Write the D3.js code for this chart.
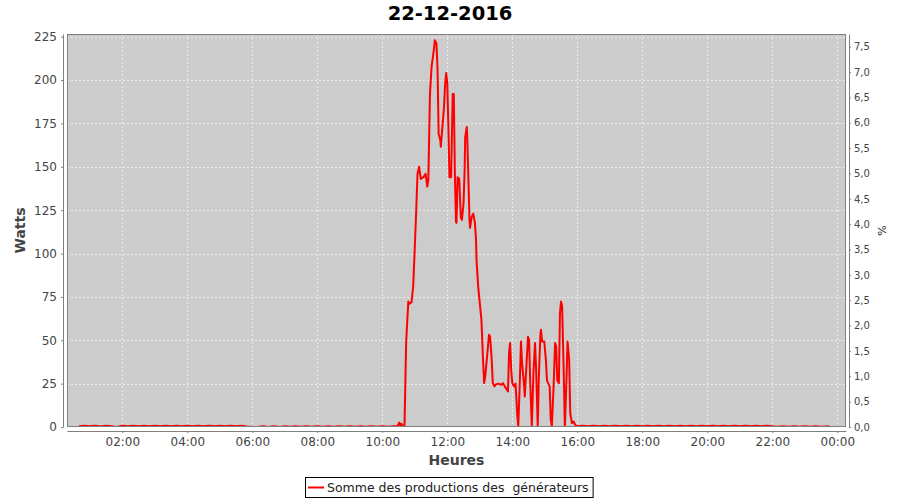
<!DOCTYPE html>
<html>
<head>
<meta charset="utf-8">
<script src="https://cdn.jsdelivr.net/npm/d3@7"></script>
<style>
  body { margin: 0; background: #fff; }
  svg { display: block; font-family: "DejaVu Sans", sans-serif; }
</style>
</head>
<body>
<div id="chart"></div>
<script>
// ---- Data ----
const chartTitle = "22-12-2016";
const seriesName = "Somme des productions des  générateurs";
const xLabel = "Heures";
const yLeftLabel = "Watts";
const yRightLabel = "%";

const times = [
  "00:40","00:50","01:00","01:10","01:20","01:30","01:40","01:50","02:00","02:10",
  "02:20","02:30","02:40","02:50","03:00","03:10","03:20","03:30","03:40","03:50",
  "04:00","04:10","04:20","04:30","04:40","04:50","05:00","05:10","05:20","05:30",
  "05:40","05:50","06:00","06:10","06:20","06:30","06:40","06:50","07:00","07:10",
  "07:20","07:30","07:40","07:50","08:00","08:10","08:20","08:30","08:40","08:50",
  "09:00","09:10","09:20","09:30","09:40","09:50","10:00","10:10","10:20","10:28",
  "10:31","10:33","10:35","10:38","10:41",
  "10:44","10:48","10:50","10:54","10:57","10:59","11:02","11:05","11:08","11:11",
  "11:16","11:20","11:23","11:25","11:28","11:31","11:35","11:37","11:40","11:42",
  "11:44","11:47","11:48","11:51","11:54","11:56","11:58","12:00","12:02","12:04",
  "12:07","12:10","12:12","12:14","12:16","12:17","12:19","12:22","12:25","12:27",
  "12:30","12:32","12:33","12:36","12:37","12:39","12:41","12:42","12:45","12:48",
  "12:51","12:53","12:54","12:57","13:00","13:03","13:06","13:08","13:10","13:14",
  "13:17","13:19","13:22","13:24","13:27","13:29","13:34","13:40","13:43","13:46",
  "13:50","13:52","13:54","13:56","13:58","14:00","14:03","14:06","14:09","14:11",
  "14:14","14:16","14:18","14:22","14:23","14:26","14:29","14:31","14:33","14:36",
  "14:39","14:42","14:44","14:47","14:49","14:52","14:53","14:55","14:59","15:02",
  "15:04","15:06","15:09","15:11","15:13","15:16","15:19","15:21","15:23","15:26",
  "15:28","15:30","15:32","15:35","15:37","15:40","15:42","15:45","15:47","15:50",
  "15:53","15:56",
  "16:00","16:10","16:20","16:30","16:40","16:50","17:00","17:10","17:20","17:30",
  "17:40","17:50","18:00","18:10","18:20","18:30","18:40","18:50","19:00","19:10",
  "19:20","19:30","19:40","19:50","20:00","20:10","20:20","20:30","20:40","20:50",
  "21:00","21:10","21:20","21:30","21:40","21:50","22:00","22:10","22:20","22:30",
  "22:40","22:50","23:00","23:10","23:20","23:30","23:45"
];

const watts = [
  0.4,0.7,0.4,0.7,0.3,0.7,0.4,0.0,0.7,0.4,
  0.7,0.4,0.7,0.4,0.7,0.4,0.7,0.4,0.7,0.4,
  0.7,0.4,0.7,0.4,0.7,0.4,0.7,0.4,0.7,0.4,
  0.7,0.3,0.0,0.0,0.4,0.0,0.5,0.0,0.4,0.1,
  0.5,0.1,0.4,0.1,0.5,0.1,0.4,0.1,0.5,0.1,
  0.4,0.1,0.5,0.1,0.4,0.1,0.5,0.2,0.5,0.4,
  2.5,1.0,2.0,0.5,0.5,
  48.6,72.3,71,72,81,96,119.5,146,150,143,
  144,146,138.6,142.5,192,207.7,217,223,221,206,
  169,165.5,161.6,173,184.7,198,204,198,173,144,
  144,192,192,146,118.4,117.7,144,143,121,119.4,
  129,148,167,173,165.5,142.5,119.4,114.8,121,123,
  117.7,108,96,81,71.4,61.8,38.8,25.3,29,42.6,
  53.2,52,38.8,25.3,23.4,24.4,25,24.4,25.3,23.4,
  21.5,20.5,42.6,48.4,33,25.3,23.4,25,8,0.3,
  27,49.3,36.9,23.4,17.6,35,52,50.3,27,0.3,
  31,48.4,33,0.3,29,54,56,49.3,49.3,38.8,
  27,25.3,23.4,4.2,0.3,21.5,48.4,46.4,27,25.3,
  65.7,72.3,69.5,31,0,27,49.3,38.8,8,2.3,
  3.2,1.3,
  0.4,0.7,0.4,0.7,0.4,0.7,0.4,0.7,0.4,0.7,
  0.4,0.7,0.4,0.7,0.4,0.7,0.4,0.7,0.4,0.7,
  0.4,0.7,0.4,0.7,0.4,0.7,0.4,0.7,0.4,0.7,
  0.4,0.7,0.4,0.7,0.4,0.7,0.4,0.2,0.5,0.2,
  0.5,0.2,0.5,0.2,0.5,0.2,0.5
];

const leftTicks = [0,25,50,75,100,125,150,175,200,225];
const rightTicks = [0,0.5,1,1.5,2,2.5,3,3.5,4,4.5,5,5.5,6,6.5,7,7.5];
const xStart = "2016-12-22 00:17:54";
const xEnd = "2016-12-23 00:16:05";
const leftMax = 226.55;
const rightMax = 7.75;

// ---- Build ----
const W = 900, H = 500;
const plot = { left: 67, right: 846, top: 34, bottom: 427 };

const parseFull = d3.timeParse("%Y-%m-%d %H:%M:%S");
const parseHM = d3.timeParse("%Y-%m-%d %H:%M");
const data = times.map((t, i) => ({ t: parseHM("2016-12-22 " + t), w: watts[i] }));

const x = d3.scaleTime().domain([parseFull(xStart), parseFull(xEnd)]).range([plot.left, plot.right]);
const yL = d3.scaleLinear().domain([0, leftMax]).range([plot.bottom, plot.top]);
const yR = d3.scaleLinear().domain([0, rightMax]).range([plot.bottom, plot.top]);

const svg = d3.select("#chart").append("svg").attr("width", W).attr("height", H);

// title
svg.append("text").attr("x", W / 2).attr("y", 20).attr("text-anchor", "middle")
  .style("font-size", "19.5px").style("font-weight", "bold").attr("fill", "#000").text(chartTitle);

// plot background
svg.append("rect").attr("x", plot.left).attr("y", plot.top)
  .attr("width", plot.right - plot.left).attr("height", plot.bottom - plot.top)
  .attr("fill", "#cccccc");

// gridlines
const xTicks = x.ticks(d3.timeHour.every(2)).filter(d => x(d) > plot.left + 2 && x(d) < plot.right - 2);
const grid = svg.append("g").attr("stroke", "#f2f2f2").attr("stroke-width", 0.8).attr("stroke-dasharray", "2,2");
grid.selectAll("line.h").data(leftTicks.filter(v => v > 0)).join("line")
  .attr("x1", plot.left).attr("x2", plot.right)
  .attr("y1", d => Math.round(yL(d)) + 0.5).attr("y2", d => Math.round(yL(d)) + 0.5);
grid.selectAll("line.v").data(xTicks).join("line")
  .attr("y1", plot.top).attr("y2", plot.bottom)
  .attr("x1", d => Math.round(x(d)) + 0.5).attr("x2", d => Math.round(x(d)) + 0.5);

// clip
svg.append("clipPath").attr("id", "clip").append("rect")
  .attr("x", plot.left).attr("y", plot.top)
  .attr("width", plot.right - plot.left).attr("height", plot.bottom - plot.top);

// series line
const line = d3.line().x(d => x(d.t)).y(d => yL(d.w)).defined(d => d.w != null);
svg.append("path").datum(data).attr("clip-path", "url(#clip)")
  .attr("fill", "none").attr("stroke", "#ff0000").attr("stroke-width", 2)
  .attr("stroke-linejoin", "round").attr("d", line);

// plot outline
svg.append("rect").attr("x", plot.left + 0.5).attr("y", plot.top + 0.5)
  .attr("width", plot.right - plot.left - 1).attr("height", plot.bottom - plot.top - 1)
  .attr("fill", "none").attr("stroke", "#808080").attr("stroke-width", 1);

// axes
const axisColor = "#808080", labelColor = "#444";
function styleAxis(g, fs) {
  g.select(".domain").attr("stroke", axisColor);
  g.selectAll(".tick line").attr("stroke", axisColor);
  g.selectAll(".tick text").attr("fill", labelColor).style("font-size", fs).style("font-family", "DejaVu Sans");
}

const xAxis = d3.axisBottom(x).tickValues(xTicks).tickFormat(d3.timeFormat("%H:%M"))
  .tickSizeInner(2).tickSizeOuter(0).tickPadding(4);
svg.append("g").attr("transform", `translate(0,${plot.bottom + 4})`).call(xAxis).call(g => styleAxis(g, "12px"));

const yAxisL = d3.axisLeft(yL).tickValues(leftTicks).tickFormat(d3.format("d"))
  .tickSizeInner(2).tickSizeOuter(0).tickPadding(4);
svg.append("g").attr("transform", `translate(${plot.left - 4},0)`).call(yAxisL).call(g => styleAxis(g, "12px"));

const fmtR = v => d3.format(".1f")(v).replace(".", ",");
const yAxisR = d3.axisRight(yR).tickValues(rightTicks).tickFormat(fmtR)
  .tickSizeInner(2).tickSizeOuter(0).tickPadding(3);
svg.append("g").attr("transform", `translate(${plot.right + 3},0)`).call(yAxisR).call(g => styleAxis(g, "10px"));

// axis labels
svg.append("text").attr("x", (plot.left + plot.right) / 2).attr("y", 465).attr("text-anchor", "middle")
  .style("font-size", "14px").style("font-weight", "bold").attr("fill", labelColor).text(xLabel);
svg.append("text").attr("transform", `translate(25,${(plot.top + plot.bottom) / 2}) rotate(-90)`)
  .attr("text-anchor", "middle").style("font-size", "14px").style("font-weight", "bold")
  .attr("fill", labelColor).text(yLeftLabel);
svg.append("text").attr("transform", `translate(886,${(plot.top + plot.bottom) / 2}) rotate(-90)`)
  .attr("text-anchor", "middle").style("font-size", "11px")
  .attr("fill", "#222").text(yRightLabel);

// legend
const lg = svg.append("g");
const legText = lg.append("text").attr("x", 327).attr("y", 492)
  .style("font-size", "12.5px").style("white-space", "pre").attr("xml:space", "preserve")
  .attr("fill", "#222").text(seriesName);
const tw = legText.node().getComputedTextLength();
lg.insert("rect", "text").attr("x", 305.5).attr("y", 477.5).attr("width", tw + 26).attr("height", 20)
  .attr("fill", "#fff").attr("stroke", "#000").attr("stroke-width", 1);
lg.append("line").attr("x1", 308).attr("x2", 324).attr("y1", 487.5).attr("y2", 487.5)
  .attr("stroke", "#ff0000").attr("stroke-width", 2);
</script>
</body>
</html>
